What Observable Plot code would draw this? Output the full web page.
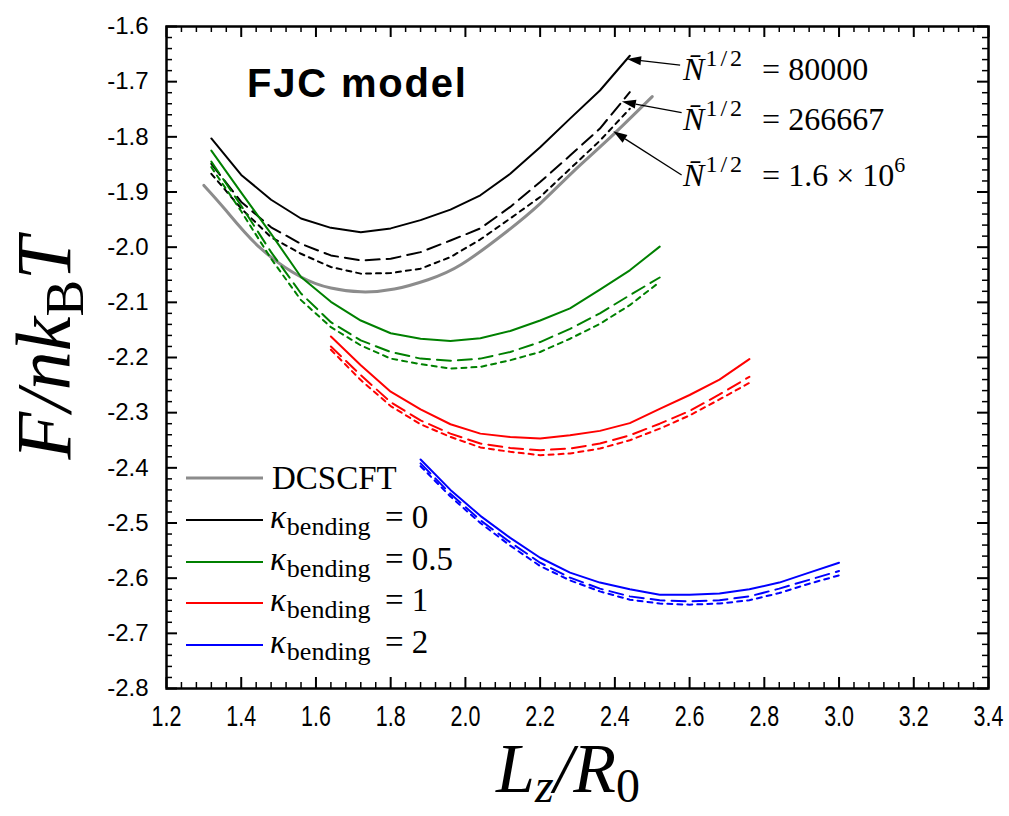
<!DOCTYPE html>
<html><head><meta charset="utf-8">
<script src="https://cdn.jsdelivr.net/npm/d3@7"></script>
<script src="https://cdn.jsdelivr.net/npm/@observablehq/plot@0.6"></script>
<style>body{margin:0;background:#fff}</style>
</head><body><div id="chart"></div>
<script>
// ---------------- data ----------------
const xTicks = [1.2,1.4,1.6,1.8,2.0,2.2,2.4,2.6,2.8,3.0,3.2,3.4];
const yTicks = [-1.6,-1.7,-1.8,-1.9,-2.0,-2.1,-2.2,-2.3,-2.4,-2.5,-2.6,-2.7,-2.8];

// DCSCFT
const xDCSCFT = [1.30,1.36,1.45,1.56,1.64,1.72,1.81,1.90,1.99,2.11,2.20,2.29,2.38,2.50];
const yDCSCFT = [-1.888,-1.934,-2.001,-2.054,-2.074,-2.081,-2.076,-2.059,-2.031,-1.972,-1.921,-1.862,-1.806,-1.727];

// kappa = 0
const xK0 = [1.32,1.40,1.48,1.56,1.64,1.72,1.80,1.88,1.96,2.04,2.12,2.20,2.28,2.36,2.44];
const k0_N80000  = [-1.803,-1.869,-1.914,-1.948,-1.965,-1.973,-1.966,-1.951,-1.932,-1.906,-1.867,-1.819,-1.767,-1.716,-1.653];
const k0_N266667 = [-1.849,-1.918,-1.964,-1.994,-2.015,-2.024,-2.021,-2.009,-1.988,-1.966,-1.927,-1.882,-1.834,-1.785,-1.719];
const k0_N16e6   = [-1.867,-1.930,-1.982,-2.012,-2.036,-2.048,-2.047,-2.039,-2.018,-1.986,-1.948,-1.909,-1.858,-1.807,-1.749];

// kappa = 0.5
const xK05 = [1.32,1.40,1.48,1.56,1.64,1.72,1.80,1.88,1.96,2.04,2.12,2.20,2.28,2.36,2.44,2.52];
const k05_N80000  = [-1.825,-1.901,-1.976,-2.054,-2.099,-2.133,-2.156,-2.166,-2.170,-2.165,-2.152,-2.133,-2.111,-2.077,-2.042,-1.999];
const k05_N266667 = [-1.845,-1.925,-2.009,-2.084,-2.136,-2.169,-2.190,-2.202,-2.206,-2.202,-2.190,-2.172,-2.148,-2.120,-2.087,-2.055];
const k05_N16e6   = [-1.855,-1.935,-2.021,-2.096,-2.145,-2.178,-2.202,-2.212,-2.220,-2.217,-2.205,-2.190,-2.166,-2.139,-2.105,-2.063];

// kappa = 1
const xK1 = [1.64,1.72,1.80,1.88,1.96,2.04,2.12,2.20,2.28,2.36,2.44,2.52,2.60,2.68,2.76];
const k1_N80000  = [-2.162,-2.214,-2.262,-2.294,-2.321,-2.338,-2.344,-2.347,-2.341,-2.333,-2.319,-2.293,-2.268,-2.240,-2.203];
const k1_N266667 = [-2.180,-2.232,-2.281,-2.314,-2.338,-2.356,-2.364,-2.368,-2.365,-2.356,-2.341,-2.320,-2.297,-2.267,-2.235];
const k1_N16e6   = [-2.186,-2.241,-2.288,-2.321,-2.344,-2.363,-2.371,-2.377,-2.374,-2.365,-2.350,-2.329,-2.305,-2.276,-2.246];

// kappa = 2
const xK2 = [1.88,1.96,2.04,2.12,2.20,2.28,2.36,2.44,2.52,2.60,2.68,2.76,2.84,2.92,3.00];
const k2_N80000  = [-2.385,-2.440,-2.487,-2.527,-2.563,-2.590,-2.608,-2.620,-2.630,-2.630,-2.628,-2.620,-2.608,-2.590,-2.572];
const k2_N266667 = [-2.392,-2.447,-2.495,-2.535,-2.572,-2.599,-2.619,-2.633,-2.640,-2.642,-2.640,-2.633,-2.619,-2.603,-2.587];
const k2_N16e6   = [-2.397,-2.452,-2.500,-2.541,-2.578,-2.604,-2.624,-2.639,-2.646,-2.648,-2.646,-2.640,-2.627,-2.610,-2.595];

const legendLabels = ["DCSCFT","0","0.5","1","2"];
const legendColors = ["#8c8c8c","#000000","#008000","#ff0000","#0000ff"];

const annotTexts = ["80000","266667","1.6 × 10"];
const annotTextX = [2.584,2.584,2.584];
const annotTextY = [-1.698,-1.788,-1.890];
const arrowFromX = [2.576,2.580,2.580];
const arrowFromY = [-1.671,-1.757,-1.870];
const arrowToX   = [2.434,2.420,2.397];
const arrowToY   = [-1.660,-1.737,-1.791];

// ---------------- layout ----------------
const W = 1009, H = 816, mL = 166, mR = 21, mT = 26, mB = 128;
const plotW = W - mL - mR, plotH = H - mT - mB;
const DASH = "14,7", DOT = "5,5";

const series = [
  {x: xDCSCFT, y: yDCSCFT, stroke: "#8c8c8c", dash: null, w: 3, curve: "natural"},
  {x: xK0, y: k0_N80000, stroke: "#000", dash: null, w: 2},
  {x: xK0, y: k0_N266667, stroke: "#000", dash: DASH, w: 2},
  {x: xK0, y: k0_N16e6, stroke: "#000", dash: DOT, w: 2},
  {x: xK05, y: k05_N80000, stroke: "#008000", dash: null, w: 2},
  {x: xK05, y: k05_N266667, stroke: "#008000", dash: DASH, w: 2},
  {x: xK05, y: k05_N16e6, stroke: "#008000", dash: DOT, w: 2},
  {x: xK1, y: k1_N80000, stroke: "#ff0000", dash: null, w: 2},
  {x: xK1, y: k1_N266667, stroke: "#ff0000", dash: DASH, w: 2},
  {x: xK1, y: k1_N16e6, stroke: "#ff0000", dash: DOT, w: 2},
  {x: xK2, y: k2_N80000, stroke: "#0000ff", dash: null, w: 2},
  {x: xK2, y: k2_N266667, stroke: "#0000ff", dash: DASH, w: 2},
  {x: xK2, y: k2_N16e6, stroke: "#0000ff", dash: DOT, w: 2},
];

const isMult = (v, step) => Math.abs(v / step - Math.round(v / step)) < 1e-6;
const xMinor = d3.range(0, 56).map(i => +(1.2 + i * 0.04).toFixed(4)).filter(v => !isMult(v, 0.2));
const yMinor = d3.range(0, 61).map(i => +(-1.6 - i * 0.02).toFixed(4)).filter(v => !isMult(v, 0.1));

const lineMarks = series.map(s => Plot.line(s.x.map((x, i) => ({x, y: s.y[i]})), {
  x: "x", y: "y", stroke: s.stroke, strokeWidth: s.w,
  strokeDasharray: s.dash || undefined, curve: s.curve || "linear", strokeLinejoin: "round"
}));

const plot = Plot.plot({
  width: W, height: H,
  marginLeft: mL, marginRight: mR, marginTop: mT, marginBottom: mB,
  x: {domain: [1.2, 3.4]},
  y: {domain: [-2.8, -1.6]},
  style: {fontFamily: "'Liberation Sans', Arial, sans-serif", fontSize: "22px", color: "#000", background: "#fff"},
  marks: [
    ...lineMarks,
    Plot.tickX(xMinor, {x: d => d, insetTop: plotH - 6, strokeWidth: 1.5}),
    Plot.tickX(xMinor, {x: d => d, insetBottom: plotH - 6, strokeWidth: 1.5}),
    Plot.tickX(xTicks, {x: d => d, insetTop: plotH - 11, strokeWidth: 2}),
    Plot.tickX(xTicks, {x: d => d, insetBottom: plotH - 11, strokeWidth: 2}),
    Plot.tickY(yMinor, {y: d => d, insetRight: plotW - 6, strokeWidth: 1.5}),
    Plot.tickY(yMinor, {y: d => d, insetLeft: plotW - 6, strokeWidth: 1.5}),
    Plot.tickY(yTicks, {y: d => d, insetRight: plotW - 11, strokeWidth: 2}),
    Plot.tickY(yTicks, {y: d => d, insetLeft: plotW - 11, strokeWidth: 2}),
    Plot.frame({stroke: "#000", strokeWidth: 2.5}),
    Plot.axisX(xTicks, {anchor: "bottom", tickSize: 0, tickPadding: 17, tickFormat: d => d.toFixed(1), label: null}),
    Plot.axisY(yTicks, {anchor: "left", tickSize: 0, tickPadding: 18, tickFormat: d => d.toFixed(1), label: null})
  ]
});

document.getElementById("chart").appendChild(plot);
const sx = plot.scale("x"), sy = plot.scale("y");
const svg = d3.select(plot);
const serif = "'Liberation Serif', 'Times New Roman', serif";

// tick labels: the only texts so far are the axis labels
svg.selectAll("text").each(function() {
  const s = this.textContent.trim();
  if (s.startsWith("-") || s.startsWith("\u2212")) {
    this.setAttribute("font-size", "24");
  } else {
    this.setAttribute("font-size", "29");
    const tr = this.getAttribute("transform");
    if (tr && tr.trim().startsWith("translate")) {
      this.setAttribute("transform", tr + " scale(0.74,1)");
    } else {
      const x = +this.getAttribute("x") || 0, y = +this.getAttribute("y") || 0;
      this.setAttribute("transform", `translate(${x},${y}) scale(0.74,1) translate(${-x},${-y})` + (tr ? " " + tr : ""));
    }
  }
});

// title inside plot
svg.append("text").attr("x", 247).attr("y", 97).attr("text-anchor", "start")
  .attr("font-family", "'Liberation Sans', Arial, sans-serif").attr("font-weight", "bold")
  .attr("font-size", 40).attr("letter-spacing", 1.8).attr("fill", "#000").text("FJC model");

// y title
const yt = svg.append("text").attr("transform", "translate(70,348) rotate(-90)")
  .attr("text-anchor", "middle").attr("font-family", serif).attr("font-size", 78).attr("fill", "#000");
yt.append("tspan").attr("font-style", "italic").text("F/nk");
yt.append("tspan").attr("font-size", 55).attr("dy", 13).text("B");
yt.append("tspan").attr("font-style", "italic").attr("dy", -13).text("T");

// x title
const xt = svg.append("text").attr("x", 568).attr("y", 792)
  .attr("text-anchor", "middle").attr("font-family", serif).attr("font-size", 70).attr("fill", "#000");
xt.append("tspan").attr("font-style", "italic").text("L");
xt.append("tspan").attr("font-style", "italic").attr("font-size", 48).attr("dy", 10).text("z");
xt.append("tspan").attr("font-style", "italic").attr("dy", -10).text("/R");
xt.append("tspan").attr("font-size", 48).attr("dy", 10).text("0");

// legend
const legRowY = [478, 520, 562, 603, 645];
legendLabels.forEach((lab, i) => {
  const yy = legRowY[i];
  svg.append("line").attr("x1", 186).attr("x2", 263).attr("y1", yy).attr("y2", yy)
    .attr("stroke", legendColors[i]).attr("stroke-width", i === 0 ? 3 : 2);
  if (i === 0) {
    svg.append("text").attr("x", 272).attr("y", yy + 11).attr("text-anchor", "start").attr("font-family", serif)
      .attr("font-size", 33).attr("fill", "#000").text(lab);
  } else {
    const t = svg.append("text").attr("x", 270).attr("y", yy + 8).attr("text-anchor", "start").attr("font-family", serif)
      .attr("font-size", 33).attr("fill", "#000");
    t.append("tspan").attr("font-style", "italic").text("κ");
    t.append("tspan").attr("font-size", 26).attr("dy", 7).attr("dx", 1).text("bending");
    t.append("tspan").attr("x", 385).attr("dy", -7).text("= " + lab);
  }
});

// annotations with arrows
annotTexts.forEach((s, i) => {
  const x0 = sx.apply(annotTextX[i]), y0 = sy.apply(annotTextY[i]);
  const t = svg.append("text").attr("x", x0).attr("y", y0).attr("text-anchor", "start").attr("font-family", serif)
    .attr("font-size", 32).attr("fill", "#000");
  t.append("tspan").attr("font-style", "italic").text("N\u0304");
  t.append("tspan").attr("font-size", 24).attr("dy", -14).attr("dx", 1).attr("letter-spacing", 3).text("1/2");
  t.append("tspan").attr("dy", 14).attr("x", x0 + 79).text("= " + s);
  if (i === 2) t.append("tspan").attr("font-size", 22).attr("dy", -14).text("6");

  const ax1 = sx.apply(arrowFromX[i]), ay1 = sy.apply(arrowFromY[i]);
  const ax2 = sx.apply(arrowToX[i]), ay2 = sy.apply(arrowToY[i]);
  const ang = Math.atan2(ay2 - ay1, ax2 - ax1);
  const hl = 14, hw = 4.5;
  const bx = ax2 - hl * Math.cos(ang), by = ay2 - hl * Math.sin(ang);
  svg.append("line").attr("x1", ax1).attr("y1", ay1).attr("x2", bx).attr("y2", by)
    .attr("stroke", "#000").attr("stroke-width", 1.3);
  const px = -Math.sin(ang), py = Math.cos(ang);
  svg.append("polygon").attr("points", [
    [ax2, ay2], [bx + hw * px, by + hw * py], [bx - hw * px, by - hw * py]
  ].map(p => p.join(",")).join(" ")).attr("fill", "#000");
});
</script>
</body></html>
